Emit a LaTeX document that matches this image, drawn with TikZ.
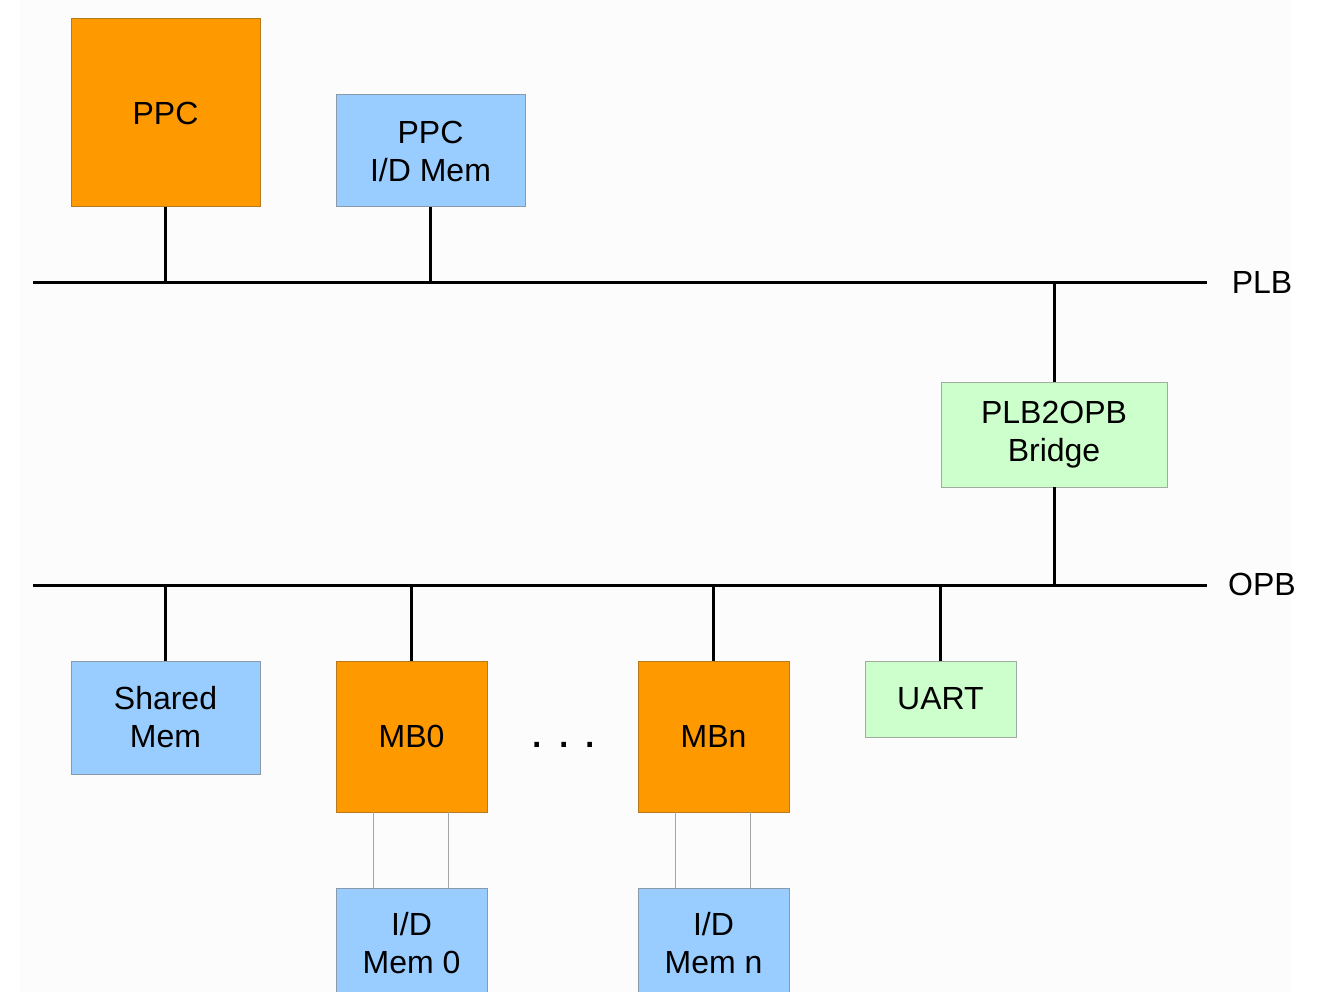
\documentclass[tikz,border=0pt]{standalone}
\usepackage{fontspec}
\setmainfont{Liberation Sans}
\definecolor{orangefill}{HTML}{FF9900}
\definecolor{orangeline}{HTML}{B87A1E}
\definecolor{bluefill}{HTML}{99CCFF}
\definecolor{blueline}{HTML}{8A9AAA}
\definecolor{greenfill}{HTML}{CCFFCC}
\definecolor{greenline}{HTML}{A0ACA0}
\definecolor{bg}{HTML}{FCFCFC}
\begin{document}
\begin{tikzpicture}[x=1pt,y=-1pt,
  font=\fontsize{32}{38}\selectfont,
  box/.style={line width=1pt, inner sep=0pt, outer sep=0pt, align=center, anchor=north west},
  cpu/.style={box, draw=orangeline, fill=orangefill},
  mem/.style={box, draw=blueline, fill=bluefill},
  per/.style={box, draw=greenline, fill=greenfill},
  bus/.style={line width=3pt},
  link/.style={line width=3pt},
  thin/.style={line width=1pt, draw=gray!70}]
\useasboundingbox (0,0) rectangle (1322,992);
\fill[white] (0,0) rectangle (1322,992);
\fill[bg] (20,0) rectangle (1290,992);

% buses
\coordinate (plbL) at (33,283);
\coordinate (plbR) at (1207,283);
\coordinate (opbL) at (33,585);
\coordinate (opbR) at (1207,585);
\draw[bus] (plbL) -- (plbR);
\draw[bus] (opbL) -- (opbR);
\node (plbT) at (1262,282) {PLB};
\node (opbT) at (1262,584) {OPB};

% top nodes
\node[cpu, minimum width=189pt, minimum height=188pt] (ppc) at (71,19) {PPC};
\node[mem, minimum width=189pt, minimum height=112pt] (ppcmem) at (336,95) {PPC\\I/D Mem};
\node[per, minimum width=226pt, minimum height=105pt] (bridge) at (941,382) {PLB2OPB\\Bridge};

% bottom nodes
\node[mem, minimum width=189pt, minimum height=113pt] (shared) at (71,661) {Shared\\Mem};
\node[cpu, minimum width=151pt, minimum height=151pt] (mb0) at (336,661) {MB0};
\node[cpu, minimum width=151pt, minimum height=151pt] (mbn) at (638,661) {MBn};
\node[per, minimum width=151pt, minimum height=76pt] (uart) at (865,661) {UART};
\node[mem, minimum width=151pt, minimum height=110pt] (mem0) at (336,888) {I/D\\Mem 0};
\node[mem, minimum width=151pt, minimum height=110pt] (memn) at (638,888) {I/D\\Mem n};
\node[font=\fontsize{48}{50}\selectfont, anchor=base] (dots) at (564,747) {.\hspace{13.2pt}.\hspace{13.2pt}.};

% links to PLB
\draw[link] (ppc.south) -- (ppc.south |- plbL);
\draw[link] (ppcmem.south) -- (ppcmem.south |- plbL);
\draw[link] (bridge.north |- plbL) -- (bridge.north);
\draw[link] (bridge.south) -- (bridge.south |- opbL);

% links to OPB
\draw[link] (shared.north |- opbL) -- (shared.north);
\draw[link] (mb0.north |- opbL) -- (mb0.north);
\draw[link] (mbn.north |- opbL) -- (mbn.north);
\draw[link] (uart.north |- opbL) -- (uart.north);

% local memory links
\draw[thin] ([xshift=-38pt]mb0.south) -- ([xshift=-38pt]mb0.south |- mem0.north);
\draw[thin] ([xshift=37pt]mb0.south) -- ([xshift=37pt]mb0.south |- mem0.north);
\draw[thin] ([xshift=-38pt]mbn.south) -- ([xshift=-38pt]mbn.south |- memn.north);
\draw[thin] ([xshift=37pt]mbn.south) -- ([xshift=37pt]mbn.south |- memn.north);
\end{tikzpicture}
\end{document}
